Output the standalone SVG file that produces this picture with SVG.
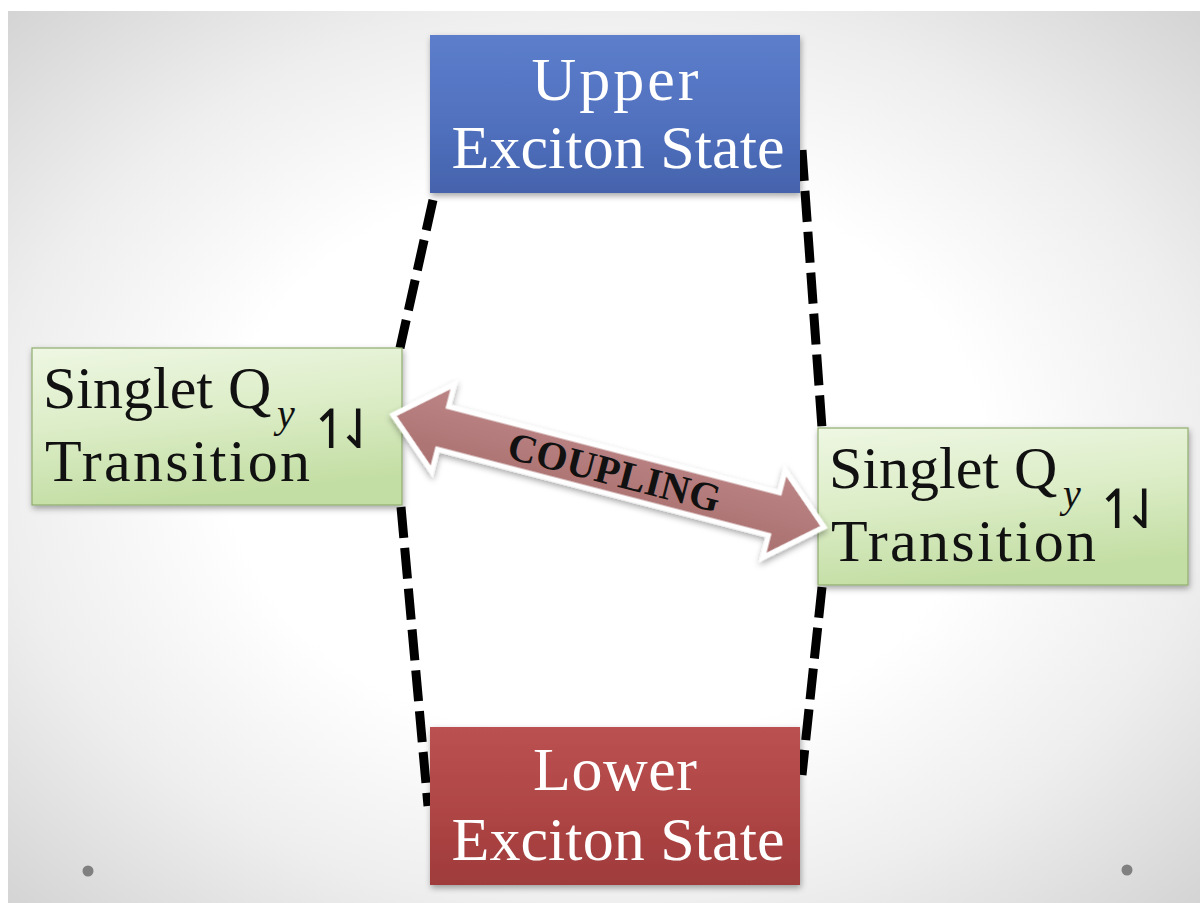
<svg xmlns="http://www.w3.org/2000/svg" width="1200" height="903" viewBox="0 0 1200 903">
  <defs>
    <radialGradient id="bg" cx="0.5" cy="0.5" r="0.707">
      <stop offset="0" stop-color="#ffffff"/>
      <stop offset="0.45" stop-color="#ffffff"/>
      <stop offset="0.72" stop-color="#eeeeee"/>
      <stop offset="0.86" stop-color="#e1e1e1"/>
      <stop offset="1" stop-color="#d4d4d4"/>
    </radialGradient>
    <linearGradient id="blueFill" x1="0" y1="0" x2="0" y2="1">
      <stop offset="0" stop-color="#5c7ecb"/>
      <stop offset="0.5" stop-color="#5272c0"/>
      <stop offset="1" stop-color="#4563ad"/>
    </linearGradient>
    <linearGradient id="redFill" x1="0" y1="0" x2="0" y2="1">
      <stop offset="0" stop-color="#bb5151"/>
      <stop offset="0.5" stop-color="#b04646"/>
      <stop offset="1" stop-color="#9f3b3b"/>
    </linearGradient>
    <linearGradient id="greenFill" x1="0" y1="0" x2="0.25" y2="1">
      <stop offset="0" stop-color="#eef7e3"/>
      <stop offset="0.5" stop-color="#dcedc7"/>
      <stop offset="1" stop-color="#c3dea4"/>
    </linearGradient>
    <linearGradient id="arrowFill" x1="0" y1="0" x2="0" y2="1">
      <stop offset="0" stop-color="#bd8686"/>
      <stop offset="1" stop-color="#a96f6f"/>
    </linearGradient>
    <filter id="shadow" x="-10%" y="-10%" width="120%" height="130%">
      <feDropShadow dx="1" dy="3" stdDeviation="3" flood-color="#000" flood-opacity="0.35"/>
    </filter>
  </defs>
  <style>
    .dash { fill: none; stroke: #000; stroke-width: 9; stroke-dasharray: 31 10; }
    .state { stroke: none; filter: url(#shadow); }
    .green { fill: url(#greenFill); stroke: #8fac6e; stroke-width: 1.2; filter: url(#shadow); }
    .wt { font-family: "Liberation Serif", "DejaVu Serif", serif; font-size: 62px; fill: #ffffff; text-anchor: middle; }
    .bt { font-family: "Liberation Serif", "DejaVu Serif", serif; font-size: 60px; fill: #111111; }
    .sub { font-family: "Liberation Serif", "DejaVu Serif", serif; font-size: 40px; font-style: italic; fill: #111111; }
    .harp { font-family: "DejaVu Sans", sans-serif; font-size: 54px; fill: #111111; text-anchor: middle; }
    .cpl { font-family: "Liberation Serif", "DejaVu Serif", serif; font-size: 40px; font-weight: bold; fill: #111111; text-anchor: middle; }
    .dot { fill: #808080; }
  </style>

  <!-- backdrop -->
  <rect x="0" y="0" width="1200" height="903" fill="#ffffff"/>
  <rect x="8" y="11" width="1192" height="892" fill="url(#bg)"/>
  <circle class="dot" cx="88" cy="871" r="5.5"/>
  <circle class="dot" cx="1127" cy="870" r="5.5"/>

  <!-- dashed correlation lines -->
  <g id="connectors">
    <line class="dash" x1="433" y1="200" x2="400" y2="348"/>
    <line class="dash" x1="802" y1="150" x2="822" y2="428"/>
    <line class="dash" x1="401" y1="507" x2="428" y2="806"/>
    <line class="dash" x1="822" y1="587" x2="802" y2="775"/>
  </g>

  <g id="upper-exciton">
    <rect class="state" x="430" y="35" width="370" height="158" fill="url(#blueFill)"/>
    <text class="wt" x="615" y="100" textLength="167" lengthAdjust="spacing">Upper</text>
    <text class="wt" x="618" y="168" textLength="333" lengthAdjust="spacing">Exciton State</text>
  </g>

  <g id="lower-exciton">
    <rect class="state" x="430" y="727" width="370" height="158" fill="url(#redFill)"/>
    <text class="wt" x="615" y="790" textLength="164" lengthAdjust="spacing">Lower</text>
    <text class="wt" x="618" y="860" textLength="333" lengthAdjust="spacing">Exciton State</text>
  </g>

  <g id="singlet-left">
    <rect class="green" x="32" y="348" width="370" height="157"/>
    <text class="bt" x="43" y="408">Singlet Q</text>
    <text class="sub" x="277" y="427">y</text>
    <text class="harp" x="331" y="448">↿</text>
    <text class="harp" x="358" y="448">⇃</text>
    <text class="bt" x="45" y="481" textLength="265" lengthAdjust="spacing">Transition</text>
  </g>

  <g id="singlet-right">
    <rect class="green" x="818" y="428" width="370" height="157"/>
    <text class="bt" x="829" y="488">Singlet Q</text>
    <text class="sub" x="1063" y="507">y</text>
    <text class="harp" x="1117" y="528">↿</text>
    <text class="harp" x="1144" y="528">⇃</text>
    <text class="bt" x="831" y="561" textLength="265" lengthAdjust="spacing">Transition</text>
  </g>

  <!-- double-headed coupling arrow -->
  <g id="coupling" transform="translate(608.5 471) rotate(14.57)">
    <polygon points="-222.7,0 -171,-45 -171,-22 171,-22 171,-45 222.7,0 171,45 171,22 -171,22 -171,45"
             fill="url(#arrowFill)" stroke="#ffffff" stroke-width="5" stroke-linejoin="miter" filter="url(#shadow)"/>
    <text class="cpl" x="6" y="13" textLength="218" lengthAdjust="spacing">COUPLING</text>
  </g>
</svg>
